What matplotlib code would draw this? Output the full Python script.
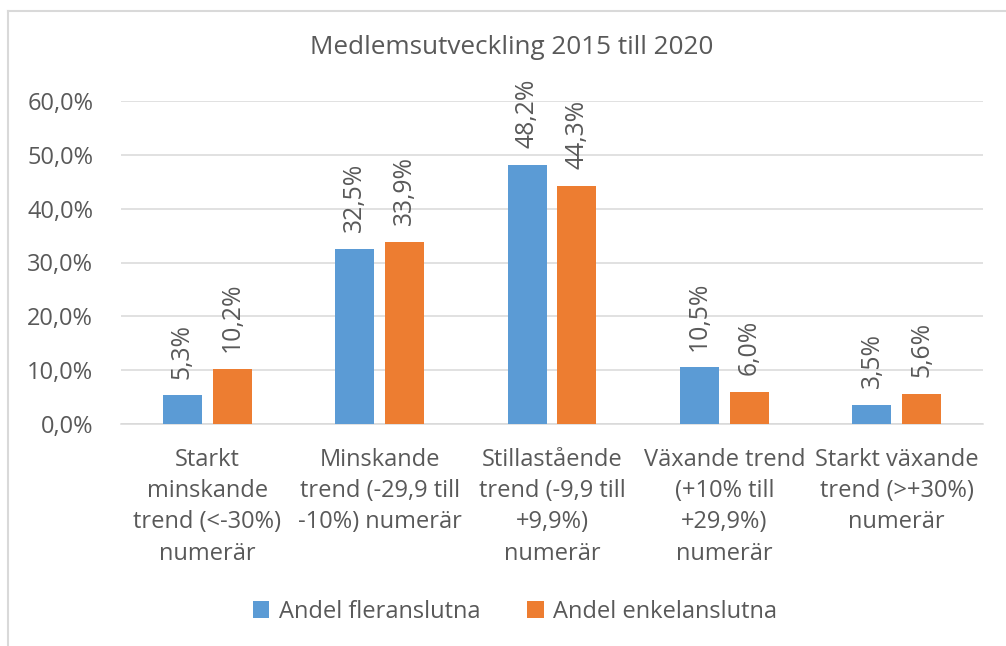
import numpy as np
import matplotlib
matplotlib.use("Agg")
import matplotlib.pyplot as plt
from matplotlib.lines import Line2D

# ── Data ──────────────────────────────────────────────────────────────────────
categories = [
    "Starkt\nminskande\ntrend (<-30%)\nnumerär",
    "Minskande\ntrend (-29,9 till\n-10%) numerär",
    "Stillastående\ntrend (-9,9 till\n+9,9%)\nnumerär",
    "Växande trend\n(+10% till\n+29,9%)\nnumerär",
    "Starkt växande\ntrend (>+30%)\nnumerär",
]
fleranslutna = [5.3, 32.5, 48.2, 10.5, 3.5]
enkelanslutna = [10.2, 33.9, 44.3, 6.0, 5.6]
series_names = ["Andel fleranslutna", "Andel enkelanslutna"]
yticks = [0, 10, 20, 30, 40, 50, 60]

# ── Style ─────────────────────────────────────────────────────────────────────
BLUE = "#5B9BD5"
ORANGE = "#ED7D31"
TXT = "#595959"
GRID = "#D9D9D9"
FS = 17          # category labels / legend / y ticks
FS_NUM = 17.8    # data labels
plt.rcParams["font.family"] = ["Open Sans", "DejaVu Sans"]

fig = plt.figure(figsize=(10.06, 6.46), dpi=100)
ax = fig.add_axes([121 / 1006, 1 - 424 / 646, (983 - 121) / 1006, (424 - 101) / 646])

x = np.arange(len(categories))
w = 0.226
off = 0.144
b1 = ax.bar(x - off, fleranslutna, w, color=BLUE, label=series_names[0], zorder=3)
b2 = ax.bar(x + off, enkelanslutna, w, color=ORANGE, label=series_names[1], zorder=3)

for bars, vals in [(b1, fleranslutna), (b2, enkelanslutna)]:
    for r, v in zip(bars, vals):
        ax.annotate(f"{v:.1f}%".replace(".", ","),
                    (r.get_x() + r.get_width() / 2, v),
                    xytext=(0, 12), textcoords="offset points",
                    ha="center", va="bottom", rotation=90,
                    fontsize=FS_NUM, color=TXT, annotation_clip=False)

ax.set_xlim(-0.5, len(categories) - 0.5)
ax.set_ylim(0, 60)
ax.set_yticks(yticks)
ax.set_yticklabels([f"{t:.1f}%".replace(".", ",") for t in yticks], fontsize=FS, color=TXT)
ax.set_xticks(x)
ax.set_xticklabels(categories, fontsize=FS, color=TXT, linespacing=1.41)
ax.tick_params(axis="y", length=0, pad=20)
ax.tick_params(axis="x", length=0, pad=17)
ax.grid(axis="y", color=GRID, lw=1.1, zorder=0)
for s in ["top", "right", "left"]:
    ax.spines[s].set_visible(False)
ax.spines["bottom"].set_color(GRID)
ax.spines["bottom"].set_linewidth(1.1)

fig.text(512 / 1006, 1 - 48 / 646, "Medlemsutveckling 2015 till 2020",
         ha="center", va="center", fontsize=18.8, color=TXT)

fig.legend(loc="center", bbox_to_anchor=(515 / 1006, 1 - 612 / 646), ncol=2,
           frameon=False, fontsize=FS, labelcolor=TXT, handlelength=0.7,
           handleheight=0.7, handletextpad=0.4, columnspacing=2.0)

# chart frame (only top and left visible in the crop)
fig.add_artist(Line2D([8 / 1006, 1.0], [1 - 11 / 646] * 2, color=GRID, lw=1.5))
fig.add_artist(Line2D([8 / 1006] * 2, [0, 1 - 11 / 646], color=GRID, lw=1.5))

fig.savefig("out.png", dpi=100)
